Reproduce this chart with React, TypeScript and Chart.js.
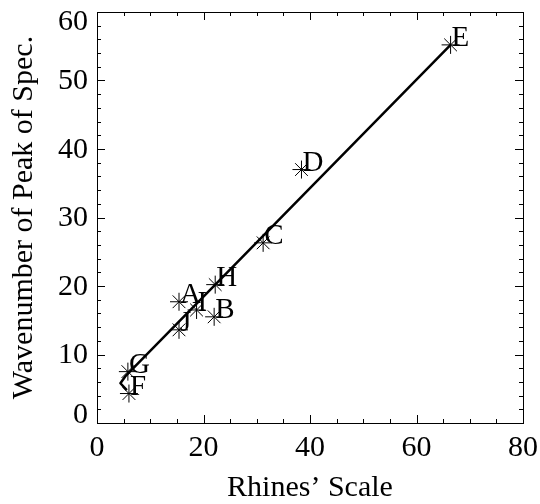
import React, { useEffect, useRef } from "react";
import { Chart, registerables } from "chart.js";

Chart.register(...registerables);

const pointNames = ["A", "B", "C", "D", "E", "F", "G", "H", "I", "J"];
const rhinesScale = [15.4, 22.0, 31.2, 38.4, 66.4, 6.0, 5.8, 22.2, 18.7, 15.4];
const peakWavenumber = [17.7, 15.5, 26.3, 37.0, 55.2, 4.3, 7.5, 20.2, 16.5, 13.6];

const lineX = [5.6, 4.4, 5.3, 66.4];
const lineY = [4.8, 5.8, 6.8, 55.2];

const xMajorTicks = [0, 20, 40, 60, 80];
const yMajorTicks = [0, 10, 20, 30, 40, 50, 60];
const yTickLabels = ["0", "10", "20", "30", "40", "50", "60"];
const xMinorStep = 5;
const yMinorStep = 2;

const FONT = "'Liberation Serif', 'DejaVu Serif', serif";

const boxPlugin = {
  id: "boxTicks",
  afterDraw(chart: any) {
    const { ctx, chartArea } = chart;
    const xs = chart.scales.x;
    const ys = chart.scales.y;
    const { left, right, top, bottom } = chartArea;
    ctx.save();
    ctx.strokeStyle = "#000";
    ctx.lineWidth = 1;
    ctx.strokeRect(left + 0.5, top + 0.5, right - left, bottom - top);
    ctx.beginPath();
    const xmin = xMajorTicks[0], xmax = xMajorTicks[xMajorTicks.length - 1];
    for (let v = xmin; v <= xmax + 1e-9; v += xMinorStep) {
      const major = xMajorTicks.includes(v);
      const len = major ? 8 : 4;
      const px = Math.round(xs.getPixelForValue(v)) + 0.5;
      ctx.moveTo(px, bottom);
      ctx.lineTo(px, bottom - len);
      ctx.moveTo(px, top);
      ctx.lineTo(px, top + len);
    }
    const ymin = yMajorTicks[0], ymax = yMajorTicks[yMajorTicks.length - 1];
    for (let v = ymin; v <= ymax + 1e-9; v += yMinorStep) {
      const major = yMajorTicks.includes(v);
      const len = major ? 8 : 4;
      const py = Math.round(ys.getPixelForValue(v)) + 0.5;
      ctx.moveTo(left, py);
      ctx.lineTo(left + len, py);
      ctx.moveTo(right, py);
      ctx.lineTo(right - len, py);
    }
    ctx.stroke();

    // y tick labels, kept inside the axis range
    ctx.fillStyle = "#000";
    ctx.font = `30px ${FONT}`;
    ctx.textAlign = "right";
    ctx.textBaseline = "middle";
    yMajorTicks.forEach((v, i) => {
      let py = ys.getPixelForValue(v);
      py = Math.max(top + 9, Math.min(bottom - 9, py));
      ctx.fillText(yTickLabels[i], left - 9, py + 1);
    });
    ctx.restore();
  },
  afterDatasetsDraw(chart: any) {
    const { ctx } = chart;
    const xs = chart.scales.x;
    const ys = chart.scales.y;
    ctx.save();
    ctx.fillStyle = "#000";
    ctx.font = `29px ${FONT}`;
    ctx.textAlign = "left";
    ctx.textBaseline = "alphabetic";
    pointNames.forEach((n, i) => {
      const px = xs.getPixelForValue(rhinesScale[i]);
      const py = ys.getPixelForValue(peakWavenumber[i]);
      ctx.fillText(n, px + 1, py + 1);
    });
    ctx.restore();
  },
};

export default function App() {
  const ref = useRef<HTMLCanvasElement>(null);
  useEffect(() => {
    if (!ref.current) return;
    const chart = new Chart(ref.current, {
      type: "scatter",
      data: {
        datasets: [
          {
            type: "line",
            data: lineX.map((x, i) => ({ x, y: lineY[i] })),
            borderColor: "#000",
            borderWidth: 2.5,
            borderJoinStyle: "round",
            pointRadius: 0,
            fill: false,
            tension: 0,
          } as any,
          {
            data: rhinesScale.map((x, i) => ({ x, y: peakWavenumber[i] })),
            pointStyle: "star",
            pointRadius: 9,
            borderColor: "#000",
            backgroundColor: "#000",
            borderWidth: 1,
          },
        ],
      },
      options: {
        responsive: false,
        animation: false,
        devicePixelRatio: 1,
        layout: { padding: { top: 12, right: 17, left: 0, bottom: 0 } },
        plugins: {
          legend: { display: false },
          tooltip: { enabled: false },
        },
        scales: {
          x: {
            type: "linear",
            min: 0,
            max: 80,
            grid: { display: false, drawTicks: false },
            border: { display: false },
            ticks: {
              stepSize: 20,
              color: "#000",
              font: { family: FONT, size: 30, lineHeight: 1.0 },
              padding: 10,
              maxRotation: 0,
            },
            title: {
              display: true,
              text: "Rhines\u2019 Scale",
              color: "#000",
              font: { family: FONT, size: 30, lineHeight: 1.0 },
              padding: { top: 0, bottom: 1 },
            },
            afterFit(scale: any) {
              scale.height = 81;
              scale.paddingLeft = 0;
              scale.paddingRight = 0;
            },
          },
          y: {
            type: "linear",
            min: 0,
            max: 60,
            grid: { display: false, drawTicks: false },
            border: { display: false },
            ticks: {
              stepSize: 10,
              display: false,
            },
            title: {
              display: true,
              text: "Wavenumber of Peak of Spec.",
              color: "#000",
              font: { family: FONT, size: 30, lineHeight: 1.0 },
              padding: { top: 9, bottom: 0 },
            },
            afterFit(scale: any) {
              scale.width = 97;
              scale.paddingTop = 0;
              scale.paddingBottom = 0;
            },
          },
        },
      },
      plugins: [boxPlugin],
    });
    return () => chart.destroy();
  }, []);
  return (
    <div style={{ position: "fixed", left: 0, top: 0, width: 540, height: 504, background: "#fff" }}>
      <canvas ref={ref} width={540} height={504} />
    </div>
  );
}
